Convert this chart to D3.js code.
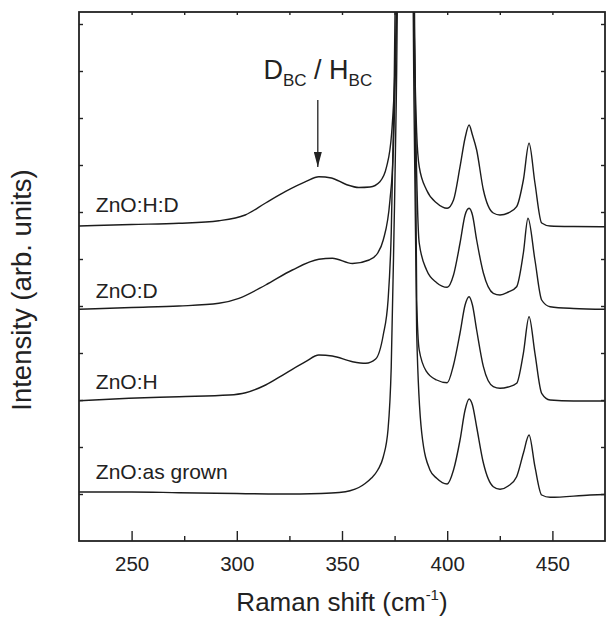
<!DOCTYPE html>
<html>
<head>
<meta charset="utf-8">
<script src="https://cdn.jsdelivr.net/npm/d3@7"></script>
<style>
  body { margin: 0; background: #fff; }
  text { font-family: Arial, "Liberation Sans", Helvetica, sans-serif; fill: #222; }
</style>
</head>
<body>
<div id="chart"></div>
<script>
// Raman spectra: [shift (cm-1), intensity (arb.)]
const asGrown = [[225,49],[250,49],[272.5,48.3],[300,47.5],[320,47],[340,47.5],[348.6,48.5],[353.8,50.3],[358,53.5],[361,57.5],[364,63],[367,71],[369.6,84],[371.9,112],[373.4,174],[374.7,308],[375.8,441],[376.6,601],[380,3541],[383.6,601],[384.2,441],[385.5,208],[387.9,108],[391.8,71],[395,62.7],[400,57],[403,71],[406.1,101],[408.5,131],[410.4,142],[412,136],[414,114],[417.2,78],[421.9,54.3],[425.1,51.7],[429,55],[433,64.3],[436.2,87.7],[438.9,106],[441.7,74.3],[444.9,46],[448.9,43.7],[467.9,46],[475,46.5]];

const znoH = [[225,140.3],[248.8,142.7],[272.5,144.3],[296.3,146],[304.2,148.3],[313.7,156],[323.2,167.7],[332.7,179.3],[339,186],[345.4,185],[355,179.3],[361.3,177.7],[366,182],[369.6,206],[371.9,241],[373.4,308],[374.7,441],[375.6,601],[380,3541],[384.2,601],[385.5,241],[386.7,191],[390.2,169.3],[395,161],[400,158.3],[403,176],[406.1,208],[408.5,236],[410.4,244.3],[412,236],[414,211],[417.2,174.3],[421.9,154.3],[425.1,152.7],[429,154],[433,157.7],[436.2,187.7],[438.9,224.3],[441.7,187.7],[444.9,147.7],[448.9,141],[460,140],[475,140]];

const znoD = [[225,231.7],[250,233.5],[272.5,235],[291.5,237.7],[301,242.7],[313.7,256],[326.4,271],[339,281.7],[345.4,282.7],[355,277.5],[362.9,281],[367,288],[369.6,301],[372.8,341],[374.4,391],[376.2,601],[380,3541],[384,601],[385.8,341],[386.7,298],[390.2,271],[395,258.3],[400,253.7],[403,266],[406.1,298],[408.5,326],[410.4,332.7],[412,326],[414,301],[417.2,268],[421.9,247.7],[425.1,246],[429,249],[433,254.3],[436.2,288],[438.4,322.7],[441.7,281],[444.9,241],[448.9,234.3],[460,232.5],[475,231.7]];

const znoHD = [[225,315],[250,316.5],[272.5,317.7],[291.5,320.3],[304,326],[313.7,338],[323,349.3],[332.7,359.3],[339,364.3],[345,363],[352,356.5],[358,353.5],[363.3,354],[368,359.3],[371.2,374.3],[373.6,408],[375.2,474],[376.5,601],[380,3541],[383.8,601],[385.5,408],[386.7,374.3],[390.2,351],[395,338],[400,332.7],[403,341],[406.1,374.3],[408.5,403],[410.4,416],[412,406],[414,391],[417.2,351],[421.9,328],[425.1,326],[429,328],[433,334.3],[436.2,361],[438.9,397.7],[441.7,358],[444.9,318],[448.9,315],[460,314.5],[475,314.3]];

const seriesNames = ["ZnO:as grown", "ZnO:H", "ZnO:D", "ZnO:H:D"];
const labelLevels = [62, 152, 243, 329];   // baseline of each curve label, arb. units

const xTicks = [250, 300, 350, 400, 450];
const xMinorTicks = [275, 325, 375, 425];
const yTicks = d3.range(47, 529, 47);

const width = 607, height = 619;
const margin = {top: 12, right: 2, bottom: 78, left: 79};

const svg = d3.select("#chart").append("svg")
    .attr("width", width)
    .attr("height", height);

const x = d3.scaleLinear()
    .domain([225, 475])
    .range([margin.left, width - margin.right]);

const y = d3.scaleLinear()
    .domain([0, 529])
    .range([height - margin.bottom, margin.top]);

svg.append("clipPath").attr("id", "plot-clip")
  .append("rect")
    .attr("x", x(225)).attr("y", y(529))
    .attr("width", x(475) - x(225))
    .attr("height", y(0) - y(529));

let line = d3.line()
    .x(d => x(d[0]))
    .y(d => y(d[1]))
    .curve(d3.curveMonotoneX);

let spectra = [asGrown, znoH, znoD, znoHD];

svg.append("g")
    .attr("clip-path", "url(#plot-clip)")
  .selectAll("path")
  .data(spectra)
  .enter()
  .append("path")
    .attr("d", line)
    .attr("fill", "none")
    .attr("stroke", "#1c1c1c")
    .attr("stroke-width", 1.4);

// curve labels
svg.selectAll(".series-label")
  .data(seriesNames)
  .enter()
  .append("text")
    .attr("class", "series-label")
    .attr("x", x(233))
    .attr("y", (d, i) => y(labelLevels[i]))
    .attr("font-size", 21)
    .text(d => d);

// axes: ticks point inwards, frame drawn separately
const xAxis = svg.append("g")
    .attr("transform", "translate(0," + y(0) + ")")
    .call(d3.axisBottom(x).tickValues(xTicks).tickSize(-10).tickPadding(15).tickFormat(d3.format("d")));
xAxis.selectAll("text").attr("font-size", 20.5).attr("fill", "#222").style("font-family", "Arial, 'Liberation Sans', sans-serif");

svg.append("g")
    .attr("transform", "translate(0," + y(0) + ")")
    .call(d3.axisBottom(x).tickValues(xMinorTicks).tickSize(-5).tickFormat(""));

svg.append("g")
    .attr("transform", "translate(0," + y(529) + ")")
    .call(d3.axisTop(x).tickValues(xTicks.concat(xMinorTicks)).tickSize(-3).tickFormat(""));

svg.append("g")
    .attr("transform", "translate(" + x(225) + ",0)")
    .call(d3.axisLeft(y).tickValues(yTicks).tickSize(-4).tickFormat(""));

svg.append("g")
    .attr("transform", "translate(" + x(475) + ",0)")
    .call(d3.axisRight(y).tickValues(yTicks).tickSize(-4).tickFormat(""));

svg.selectAll(".domain").remove();
svg.selectAll(".tick line").attr("stroke", "#222").attr("stroke-width", 1.4);

svg.append("rect")
    .attr("x", x(225)).attr("y", y(529))
    .attr("width", x(475) - x(225))
    .attr("height", y(0) - y(529))
    .attr("fill", "none")
    .attr("stroke", "#222")
    .attr("stroke-width", 1.8);

// axis titles
let xTitle = svg.append("text")
    .attr("x", (x(225) + x(475)) / 2)
    .attr("y", 611)
    .attr("text-anchor", "middle")
    .attr("font-size", 26);
xTitle.append("tspan").text("Raman shift (cm");
xTitle.append("tspan").attr("dy", -11).attr("font-size", 15).text("-1");
xTitle.append("tspan").attr("dy", 11).text(")");

svg.append("text")
    .attr("transform", "translate(31," + 290 + ") rotate(-90)")
    .attr("text-anchor", "middle")
    .attr("font-size", 27.5)
    .text("Intensity (arb. units)");

// D_BC / H_BC annotation with arrow
const arrowShift = 338.5;
const arrowFrom = 441, arrowTo = 374;

svg.append("defs").append("marker")
    .attr("id", "head")
    .attr("viewBox", "0 0 10 10")
    .attr("refX", 10).attr("refY", 5)
    .attr("markerWidth", 15).attr("markerHeight", 8)
    .attr("markerUnits", "userSpaceOnUse")
    .attr("orient", "auto")
    .attr("preserveAspectRatio", "none")
  .append("path")
    .attr("d", "M0,0 L10,5 L0,10 z")
    .attr("fill", "#222");

svg.append("line")
    .attr("x1", x(arrowShift)).attr("y1", y(arrowFrom))
    .attr("x2", x(arrowShift)).attr("y2", y(arrowTo))
    .attr("stroke", "#222")
    .attr("stroke-width", 1.3)
    .attr("marker-end", "url(#head)");

let ann = svg.append("text")
    .attr("x", x(arrowShift))
    .attr("y", 79)
    .attr("text-anchor", "middle")
    .attr("font-size", 27);
ann.append("tspan").text("D");
ann.append("tspan").attr("dy", 7).attr("font-size", 17).text("BC");
ann.append("tspan").attr("dy", -7).text(" / H");
ann.append("tspan").attr("dy", 7).attr("font-size", 17).text("BC");
</script>
</body>
</html>
